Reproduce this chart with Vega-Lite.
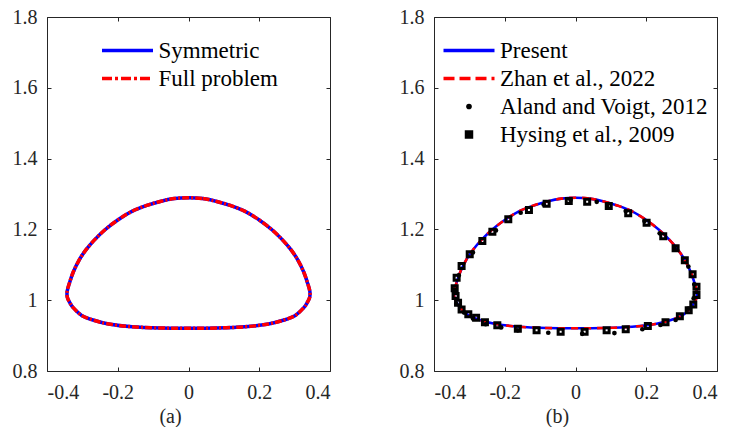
{
  "$schema": "https://vega.github.io/schema/vega-lite/v6.json",
  "background": "white",
  "padding": {"left": 11, "top": 6, "right": 0, "bottom": 0},
  "spacing": 67,
  "config": {
    "font": "Liberation Serif",
    "view": {"stroke": "#262626", "strokeWidth": 1},
    "axis": {
      "domain": false,
      "grid": false,
      "ticks": true,
      "tickSize": -4,
      "tickColor": "#262626",
      "labelFont": "Liberation Serif",
      "labelFontSize": 20,
      "labelColor": "#262626",
      "titleFont": "Liberation Serif",
      "titleFontSize": 20,
      "titleFontWeight": "normal",
      "titleColor": "#262626"
    },
    "legend": {
      "labelFont": "Liberation Serif",
      "labelFontSize": 23,
      "labelColor": "#000000",
      "labelLimit": 0,
      "rowPadding": 4,
      "labelOffset": 19.5,
      "symbolType": "stroke",
      "symbolSize": 400,
      "symbolStrokeWidth": 3.5,
      "padding": 0
    }
  },
  "resolve": {"scale": {"color": "independent"}, "legend": {"color": "independent"}},
  "datasets": {
    "contour": [
      {"i": 0, "x": 0, "y": 1.2895},
      {"i": 1, "x": 0.04, "y": 1.287},
      {"i": 2, "x": 0.08, "y": 1.279},
      {"i": 3, "x": 0.12, "y": 1.267},
      {"i": 4, "x": 0.16, "y": 1.251},
      {"i": 5, "x": 0.2, "y": 1.2265},
      {"i": 6, "x": 0.236, "y": 1.199},
      {"i": 7, "x": 0.265, "y": 1.171},
      {"i": 8, "x": 0.29, "y": 1.142},
      {"i": 9, "x": 0.31, "y": 1.112},
      {"i": 10, "x": 0.326, "y": 1.079},
      {"i": 11, "x": 0.337, "y": 1.047},
      {"i": 12, "x": 0.343, "y": 1.025},
      {"i": 13, "x": 0.3425, "y": 1.008},
      {"i": 14, "x": 0.3355, "y": 0.993},
      {"i": 15, "x": 0.326, "y": 0.979},
      {"i": 16, "x": 0.302, "y": 0.957},
      {"i": 17, "x": 0.27, "y": 0.944},
      {"i": 18, "x": 0.226, "y": 0.933},
      {"i": 19, "x": 0.16, "y": 0.925},
      {"i": 20, "x": 0.08, "y": 0.9215},
      {"i": 21, "x": 0, "y": 0.9208},
      {"i": 22, "x": -0.08, "y": 0.9215},
      {"i": 23, "x": -0.16, "y": 0.925},
      {"i": 24, "x": -0.226, "y": 0.933},
      {"i": 25, "x": -0.27, "y": 0.944},
      {"i": 26, "x": -0.302, "y": 0.957},
      {"i": 27, "x": -0.326, "y": 0.979},
      {"i": 28, "x": -0.3355, "y": 0.993},
      {"i": 29, "x": -0.3425, "y": 1.008},
      {"i": 30, "x": -0.343, "y": 1.025},
      {"i": 31, "x": -0.337, "y": 1.047},
      {"i": 32, "x": -0.326, "y": 1.079},
      {"i": 33, "x": -0.31, "y": 1.112},
      {"i": 34, "x": -0.29, "y": 1.142},
      {"i": 35, "x": -0.265, "y": 1.171},
      {"i": 36, "x": -0.236, "y": 1.199},
      {"i": 37, "x": -0.2, "y": 1.2265},
      {"i": 38, "x": -0.16, "y": 1.251},
      {"i": 39, "x": -0.12, "y": 1.267},
      {"i": 40, "x": -0.08, "y": 1.279},
      {"i": 41, "x": -0.04, "y": 1.287}
    ],
    "aland": [
      {"x": -0.014, "y": 1.283},
      {"x": 0.06, "y": 1.278},
      {"x": 0.09, "y": 1.266},
      {"x": 0.142, "y": 1.252},
      {"x": 0.195, "y": 1.224},
      {"x": 0.238, "y": 1.189},
      {"x": 0.28, "y": 1.145},
      {"x": 0.319, "y": 1.095},
      {"x": 0.336, "y": 1.045},
      {"x": 0.334, "y": 1.005},
      {"x": 0.319, "y": 0.976},
      {"x": 0.283, "y": 0.944},
      {"x": 0.24, "y": 0.93},
      {"x": 0.189, "y": 0.918},
      {"x": 0.11, "y": 0.907},
      {"x": 0.019, "y": 0.905},
      {"x": -0.077, "y": 0.908},
      {"x": -0.163, "y": 0.915},
      {"x": -0.21, "y": 0.923},
      {"x": -0.254, "y": 0.932},
      {"x": -0.29, "y": 0.948},
      {"x": -0.315, "y": 0.965},
      {"x": -0.337, "y": 0.99},
      {"x": -0.343, "y": 1.03},
      {"x": -0.33, "y": 1.07},
      {"x": -0.29, "y": 1.135},
      {"x": -0.225, "y": 1.197},
      {"x": -0.155, "y": 1.247},
      {"x": -0.09, "y": 1.27}
    ],
    "hysing": [
      {"x": -0.019, "y": 1.28},
      {"x": 0.033, "y": 1.278},
      {"x": 0.094, "y": 1.266},
      {"x": 0.149, "y": 1.2455},
      {"x": 0.201, "y": 1.219},
      {"x": 0.248, "y": 1.181},
      {"x": 0.283, "y": 1.1466},
      {"x": 0.309, "y": 1.1127},
      {"x": 0.331, "y": 1.073},
      {"x": 0.342, "y": 1.038},
      {"x": 0.342, "y": 1.0147},
      {"x": 0.333, "y": 0.988},
      {"x": 0.32, "y": 0.9714},
      {"x": 0.295, "y": 0.955},
      {"x": 0.2545, "y": 0.938},
      {"x": 0.2045, "y": 0.927},
      {"x": 0.142, "y": 0.9178},
      {"x": 0.088, "y": 0.915},
      {"x": 0.0257, "y": 0.911},
      {"x": -0.042, "y": 0.911},
      {"x": -0.11, "y": 0.915},
      {"x": -0.163, "y": 0.9195},
      {"x": -0.221, "y": 0.929},
      {"x": -0.256, "y": 0.938},
      {"x": -0.281, "y": 0.9506},
      {"x": -0.303, "y": 0.96},
      {"x": -0.322, "y": 0.974},
      {"x": -0.332, "y": 0.993},
      {"x": -0.339, "y": 1.012},
      {"x": -0.3415, "y": 1.0336},
      {"x": -0.336, "y": 1.0636},
      {"x": -0.322, "y": 1.0966},
      {"x": -0.299, "y": 1.1296},
      {"x": -0.2633, "y": 1.167},
      {"x": -0.235, "y": 1.1935},
      {"x": -0.19, "y": 1.2285},
      {"x": -0.1316, "y": 1.2548},
      {"x": -0.0816, "y": 1.2726}
    ]
  },
  "hconcat": [
    {
      "width": 283,
      "height": 354,
      "resolve": {"axis": {"x": "independent", "y": "independent"}},
      "layer": [
        {
          "data": {"name": "contour"},
          "mark": {"type": "line", "interpolate": "cardinal-closed", "strokeWidth": 3.5},
          "encoding": {
            "x": {"field": "x", "type": "quantitative", "scale": {"domain": [-0.4, 0.4], "nice": false, "zero": false},
              "axis": {"orient": "bottom", "values": [-0.4, -0.2, 0, 0.2, 0.4], "labelPadding": 15,
                "labelExpr": "datum.value == 0 ? '0' : (datum.value < 0 ? '-' : '') + format(abs(datum.value), '.1f')",
                "title": "(a)", "titleX": 123, "titleY": 51, "titleAlign": "center", "titleBaseline": "alphabetic"}},
            "y": {"field": "y", "type": "quantitative", "scale": {"domain": [0.8, 1.8], "nice": false, "zero": false},
              "axis": {"orient": "left", "values": [0.8, 1, 1.2, 1.4, 1.6, 1.8], "labelPadding": 14,
                "labelExpr": "datum.value == 1 ? '1' : format(datum.value, '.1f')", "title": null}},
            "order": {"field": "i"},
            "color": {"datum": "Symmetric", "type": "nominal",
              "scale": {"domain": ["Symmetric", "Full problem"], "range": ["#0000ff", "#ff0000"]},
              "legend": {"title": null, "orient": "none", "legendX": 69, "legendY": 22,
                "encode": {"symbols": {"update": {
                  "shape": {"signal": "datum.value === 'none' ? 'circle' : 'stroke'"},
                  "size": {"signal": "datum.value === 'none' ? 30 : 2601"},
                  "stroke": {"signal": "datum.value === 'Symmetric' ? '#0000ff' : '#ff0000'"},
                  "fill": {"signal": "datum.value === 'none' ? '#000000' : 'transparent'"},
                  "strokeWidth": {"signal": "datum.value === 'none' ? 0 : 3.5"},
                  "strokeDash": {"signal": "datum.value === 'Full problem' ? [10,3,3,3] : [1,0]"},
                  "opacity": {"value": 1}}}}}}
          }
        },
        {
          "data": {"name": "contour"},
          "mark": {"type": "line", "interpolate": "cardinal-closed", "strokeWidth": 3.5, "strokeDash": [7, 2, 2, 2]},
          "encoding": {
            "x": {"field": "x", "type": "quantitative",
              "axis": {"orient": "top", "values": [-0.4, -0.2, 0, 0.2, 0.4], "labels": false, "title": null}},
            "y": {"field": "y", "type": "quantitative",
              "axis": {"orient": "right", "values": [0.8, 1, 1.2, 1.4, 1.6, 1.8], "labels": false, "title": null}},
            "order": {"field": "i"},
            "color": {"datum": "Full problem", "type": "nominal"}
          }
        }
      ]
    },
    {
      "width": 283,
      "height": 354,
      "resolve": {"axis": {"x": "independent", "y": "independent"}},
      "layer": [
        {
          "data": {"name": "contour"},
          "mark": {"type": "line", "interpolate": "cardinal-closed", "strokeWidth": 2.6},
          "encoding": {
            "x": {"field": "x", "type": "quantitative", "scale": {"domain": [-0.4, 0.4], "nice": false, "zero": false},
              "axis": {"orient": "bottom", "values": [-0.4, -0.2, 0, 0.2, 0.4], "labelPadding": 15,
                "labelExpr": "datum.value == 0 ? '0' : (datum.value < 0 ? '-' : '') + format(abs(datum.value), '.1f')",
                "title": "(b)", "titleX": 123, "titleY": 51, "titleAlign": "center", "titleBaseline": "alphabetic"}},
            "y": {"field": "y", "type": "quantitative", "scale": {"domain": [0.8, 1.8], "nice": false, "zero": false},
              "axis": {"orient": "left", "values": [0.8, 1, 1.2, 1.4, 1.6, 1.8], "labelPadding": 14,
                "labelExpr": "datum.value == 1 ? '1' : format(datum.value, '.1f')", "title": null}},
            "order": {"field": "i"},
            "color": {"datum": "Present", "type": "nominal",
              "scale": {"domain": ["Present", "Zhan et al., 2022", "Aland and Voigt, 2012", "Hysing et al., 2009"], "range": ["#0000ff", "#ff0000", "#000000", "#000000"]},
              "legend": {"title": null, "orient": "none", "legendX": 23.5, "legendY": 22,
                "encode": {"symbols": {"update": {
                  "shape": {"signal": "datum.value === 'Aland and Voigt, 2012' ? 'circle' : datum.value === 'Hysing et al., 2009' ? 'square' : 'stroke'"},
                  "size": {"signal": "datum.value === 'Aland and Voigt, 2012' ? 32 : datum.value === 'Hysing et al., 2009' ? 30 : 2601"},
                  "stroke": {"signal": "datum.value === 'Present' ? '#0000ff' : datum.value === 'Zhan et al., 2022' ? '#ff0000' : '#000000'"},
                  "fill": {"signal": "datum.value === 'Aland and Voigt, 2012' ? '#000000' : 'transparent'"},
                  "strokeWidth": {"signal": "datum.value === 'Aland and Voigt, 2012' ? 0 : datum.value === 'Hysing et al., 2009' ? 3 : 3.5"},
                  "strokeDash": {"signal": "datum.value === 'Zhan et al., 2022' ? [11,5] : [1,0]"},
                  "opacity": {"value": 1}
                }}}}}
          }
        },
        {
          "data": {"name": "contour"},
          "mark": {"type": "line", "interpolate": "cardinal-closed", "strokeWidth": 2.6, "strokeDash": [7, 6]},
          "encoding": {
            "x": {"field": "x", "type": "quantitative",
              "axis": {"orient": "top", "values": [-0.4, -0.2, 0, 0.2, 0.4], "labels": false, "title": null}},
            "y": {"field": "y", "type": "quantitative",
              "axis": {"orient": "right", "values": [0.8, 1, 1.2, 1.4, 1.6, 1.8], "labels": false, "title": null}},
            "order": {"field": "i"},
            "color": {"datum": "Zhan et al., 2022", "type": "nominal"}
          }
        },
        {
          "data": {"name": "aland"},
          "mark": {"type": "point", "shape": "circle", "filled": true, "size": 22, "opacity": 1},
          "encoding": {
            "x": {"field": "x", "type": "quantitative", "axis": null},
            "y": {"field": "y", "type": "quantitative", "axis": null},
            "color": {"datum": "Aland and Voigt, 2012", "type": "nominal"}
          }
        },
        {
          "data": {"name": "hysing"},
          "mark": {"type": "point", "shape": "square", "filled": false, "size": 25, "strokeWidth": 3, "opacity": 1},
          "encoding": {
            "x": {"field": "x", "type": "quantitative", "axis": null},
            "y": {"field": "y", "type": "quantitative", "axis": null},
            "color": {"datum": "Hysing et al., 2009", "type": "nominal"}
          }
        }
      ]
    }
  ]
}
